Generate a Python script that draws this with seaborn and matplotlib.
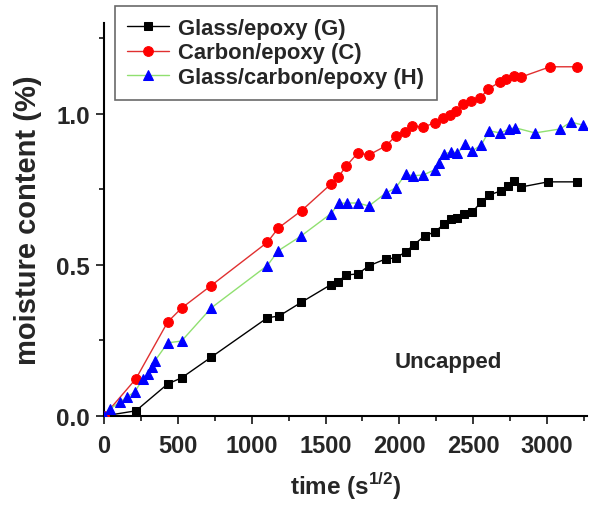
import numpy as np
import pandas as pd
import matplotlib
matplotlib.use('Agg')
import matplotlib.pyplot as plt
import seaborn as sns

# Glass/epoxy (G)
g_time = [0, 216, 431, 525, 727, 1106, 1186, 1335, 1537, 1584, 1641, 1719, 1793, 1908, 1975,
          2042, 2096, 2170, 2238, 2305, 2352, 2393, 2440, 2494, 2551, 2608, 2689, 2736, 2777,
          2824, 3006, 3202]
g_moist = [0, 0.017, 0.106, 0.126, 0.195, 0.325, 0.331, 0.376, 0.435, 0.445, 0.467, 0.47, 0.497,
           0.52, 0.523, 0.543, 0.566, 0.596, 0.609, 0.636, 0.652, 0.656, 0.669, 0.675, 0.707,
           0.732, 0.745, 0.762, 0.778, 0.758, 0.775, 0.775]

# Carbon/epoxy (C)
c_time = [0, 216, 431, 525, 721, 1106, 1180, 1338, 1537, 1587, 1641, 1719, 1793, 1908, 1975,
          2035, 2083, 2163, 2238, 2298, 2345, 2386, 2433, 2487, 2548, 2602, 2682, 2723, 2777,
          2824, 3020, 3202]
c_moist = [0, 0.123, 0.311, 0.357, 0.43, 0.575, 0.622, 0.68, 0.768, 0.792, 0.828, 0.871, 0.864,
           0.894, 0.927, 0.94, 0.96, 0.957, 0.97, 0.987, 0.997, 1.01, 1.033, 1.043, 1.053,
           1.083, 1.106, 1.116, 1.126, 1.122, 1.156, 1.156]

# Glass/carbon/epoxy (H)
h_time = [0, 40, 108, 155, 209, 263, 297, 323, 344, 431, 525, 727, 1106, 1180, 1335, 1537,
          1591, 1645, 1719, 1793, 1908, 1975, 2042, 2090, 2163, 2238, 2265, 2305, 2352, 2393,
          2447, 2494, 2554, 2608, 2682, 2743, 2784, 2918, 3087, 3161, 3242]
h_moist = [0, 0.023, 0.046, 0.063, 0.08, 0.123, 0.139, 0.162, 0.182, 0.242, 0.248, 0.358,
           0.498, 0.547, 0.596, 0.67, 0.704, 0.705, 0.705, 0.695, 0.738, 0.755, 0.801, 0.795,
           0.798, 0.815, 0.838, 0.868, 0.874, 0.871, 0.9, 0.878, 0.897, 0.944, 0.937, 0.95,
           0.954, 0.937, 0.95, 0.973, 0.963]

sns.set_style("ticks")
plt.rcParams['font.family'] = ['Liberation Sans', 'DejaVu Sans']
plt.rcParams['font.weight'] = 'bold'
plt.rcParams['mathtext.fontset'] = 'custom'
plt.rcParams['mathtext.bf'] = 'Liberation Sans:bold'
plt.rcParams['mathtext.rm'] = 'Liberation Sans:bold'

fig = plt.figure(figsize=(5.89, 5.06), dpi=100)
ax = fig.add_axes([0.1766, 0.176, 0.82, 0.776])

series = [
    (g_time, g_moist, 'Glass/epoxy (G)', 's', 'black', 'black', 6),
    (c_time, c_moist, 'Carbon/epoxy (C)', 'o', 'red', '#e03030', 7),
    (h_time, h_moist, 'Glass/carbon/epoxy (H)', '^', 'blue', '#90e070', 7),
]
for t, m, lab, mk, mc, lc, ms in series:
    df = pd.DataFrame({'t': t, 'm': m})
    sns.lineplot(data=df, x='t', y='m', ax=ax, color=lc, linewidth=1.0,
                 marker=mk, markersize=ms, markerfacecolor=mc, markeredgecolor=mc,
                 label=lab, zorder=3)

ax.set_xlim(0, 3270)
ax.set_ylim(0, 1.3)
ax.set_xticks([0, 500, 1000, 1500, 2000, 2500, 3000])
ax.set_xticks(np.arange(250, 3270, 500), minor=True)
ax.set_yticks([0.0, 0.5, 1.0])
ax.set_yticklabels(['0.0', '0.5', '1.0'])
ax.set_yticks([0.25, 0.75, 1.25], minor=True)
ax.tick_params(which='major', direction='out', length=6, width=1.3, labelsize=17)
ax.tick_params(axis='x', which='major', pad=7)
ax.tick_params(axis='y', which='major', pad=4, labelsize=17.5)
ax.tick_params(which='minor', direction='out', length=3.5, width=1.3)
for s in ['top', 'right']:
    ax.spines[s].set_visible(False)
for s in ['left', 'bottom']:
    ax.spines[s].set_linewidth(1.5)
    ax.spines[s].set_color('black')

ax.set_xlabel('time (s$^{\\mathbf{1/2}}$)', fontsize=17.5, fontweight='bold', labelpad=9)
ax.set_ylabel('moisture content (%)', fontsize=21, fontweight='bold', labelpad=10)

ax.text(2330, 0.18, 'Uncapped', fontsize=16, fontweight='bold', ha='center', va='center')

leg = ax.legend(loc='upper left', bbox_to_anchor=(0.195, 0.986), bbox_transform=fig.transFigure,
                fontsize=15.8, frameon=True, fancybox=False, edgecolor='#444444',
                handlelength=1.9, borderpad=0.55, labelspacing=0.15, handletextpad=0.45,
                borderaxespad=0)
leg.get_frame().set_linewidth(1.2)
leg.set_zorder(5)

fig.savefig('out.png', dpi=100)
